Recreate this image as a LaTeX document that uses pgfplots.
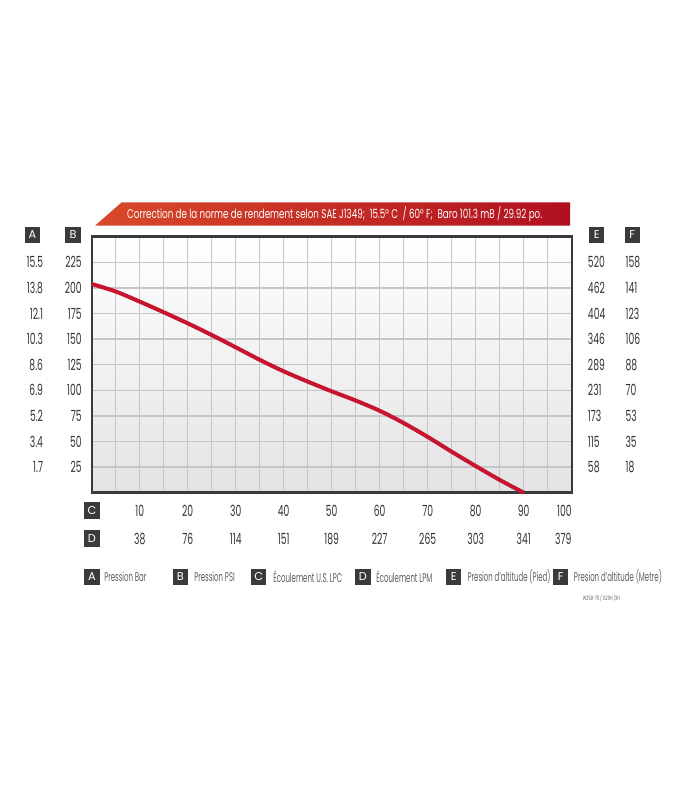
\documentclass[border=0pt]{standalone}
\usepackage{pgfplots}
\pgfplotsset{compat=1.18}
\usepackage{fontspec}
\setmainfont{Poppins}
\newfontfamily\cond{Poppins}[FakeStretch=0.6]
\newfontfamily\condleg{Poppins}[FakeStretch=0.55]
\newfontfamily\condtitle{Poppins}[FakeStretch=0.69]

\definecolor{boxgray}{HTML}{3A3A3A}
\definecolor{curvered}{HTML}{C8152F}
\definecolor{gridgray}{HTML}{C6C6C6}
\definecolor{labgray}{HTML}{333333}
\definecolor{leggray}{HTML}{5E5E5E}
\definecolor{banL}{HTML}{D84A2A}
\definecolor{banR}{HTML}{B10F1F}
\definecolor{bgbot}{HTML}{E3E3E5}

\begin{document}
\begin{tikzpicture}[x=0.75pt, y=0.75pt,
    lab/.style={font=\cond\fontsize{11.5}{13}\selectfont, text=labgray, inner sep=0pt},
    leg/.style={font=\condleg\fontsize{9.5}{11}\selectfont, text=leggray, inner sep=0pt, anchor=west},
    key/.style={fill=boxgray, text=white, font=\fontsize{8.5}{10}\selectfont,
                minimum width=11.6pt, minimum height=12.4pt, inner sep=0pt}]
  % page size 700 x 800 px
  \path (0,0) rectangle (700,800);

  % title banner
  \shade[left color=banL, right color=banR]
    (95,574.3) -- (121.7,597.7) -- (570,597.7) -- (570,574.3) -- cycle;
  \node[font=\condtitle\fontsize{9.5}{10}\selectfont, text=white, inner sep=0pt]
    at (334.7,586) {Correction de la norme de rendement selon SAE J1349;\ \ 15.5° C\ \ / 60° F;\ \ Baro 101.3 mB / 29.92 po.};

  \begin{axis}[
      at={(68.775pt,230.475pt)}, anchor=south west,
      scale only axis, width=360pt, height=192pt,
      xmin=0, xmax=100, ymin=0, ymax=250,
      xtick={10,20,...,100},
      xticklabels={10,20,30,40,50,60,70,80,90,\llap{100}},
      minor xtick={5,15,...,95},
      ytick={25,50,...,225},
      yticklabels={25,50,75,100,125,150,175,200,225},
      grid=both,
      major grid style={gridgray, line width=1.1pt},
      minor grid style={gridgray, line width=1.1pt},
      major tick length=0pt, minor tick length=0pt,
      axis line style={boxgray, line width=1.8pt},
      axis background/.style={top color=white, bottom color=bgbot},
      xticklabel style={lab, anchor=center, yshift=-13.7pt},
      yticklabel style={lab, anchor=east, xshift=-7.3pt},
      clip=false,
    ]
    \addplot[curvered, line width=3pt, smooth, tension=0.5] coordinates {
      (0,203.8) (5,196.5) (10,186.6) (15,176.2) (20,165.4) (25,154) (30,142)
      (35,129.8) (40,118.5) (45,108.5) (50,99) (55,90) (60,80) (65,68)
      (70,54.5) (75,40) (80,26) (85,12.5) (90,0)
    };
  \end{axis}

  % secondary scales
  \foreach \v/\a/\e/\f in {25/1.7/58/18, 50/3.4/115/35, 75/5.2/173/53,
      100/6.9/231/70, 125/8.6/289/88, 150/10.3/346/106, 175/12.1/404/123,
      200/13.8/462/141, 225/15.5/520/158} {
    \node[lab, anchor=east] at (43.3,{307.3+\v*1.024}) {\a};
    \node[lab, anchor=west] at (587.7,{307.3+\v*1.024}) {\e};
    \node[lab, anchor=west] at (625.3,{307.3+\v*1.024}) {\f};
  }
  \foreach \c/\d in {10/38, 20/76, 30/114, 40/151, 50/189, 60/227,
      70/265, 80/303, 90/341} {
    \node[lab] at ({91.7+\c*4.8},261.3) {\d};
  }
  \node[lab, anchor=east] at (571.7,261.3) {379};

  % scale keys
  \node[key] at (32.5,565) {A};
  \node[key] at (73,565) {B};
  \node[key] at (596.7,565) {E};
  \node[key] at (632.3,565) {F};
  \node[key] at (92,289.5) {C};
  \node[key] at (92,261.3) {D};

  % legend
  \node[key] at (92,223) {A};    \node[leg] at (104,223) {Pression Bar};
  \node[key] at (180.3,223) {B}; \node[leg] at (194,223) {Pression PSI};
  \node[key] at (258.7,223) {C}; \node[leg] at (273,223) {Écoulement U.S. LPC};
  \node[key] at (363,223) {D};   \node[leg] at (376,223) {Écoulement LPM};
  \node[key] at (453.7,223) {E}; \node[leg] at (467.3,223) {Presion d’altitude (Pied)};
  \node[key] at (560.7,223) {F}; \node[leg] at (573.7,223) {Presion d’altitude (Metre)};

  \node[font=\cond\fontsize{4.5}{5}\selectfont, text=leggray, inner sep=0pt, anchor=west]
    at (582.7,202) {W250-75 / G29H /3H};
\end{tikzpicture}
\end{document}
